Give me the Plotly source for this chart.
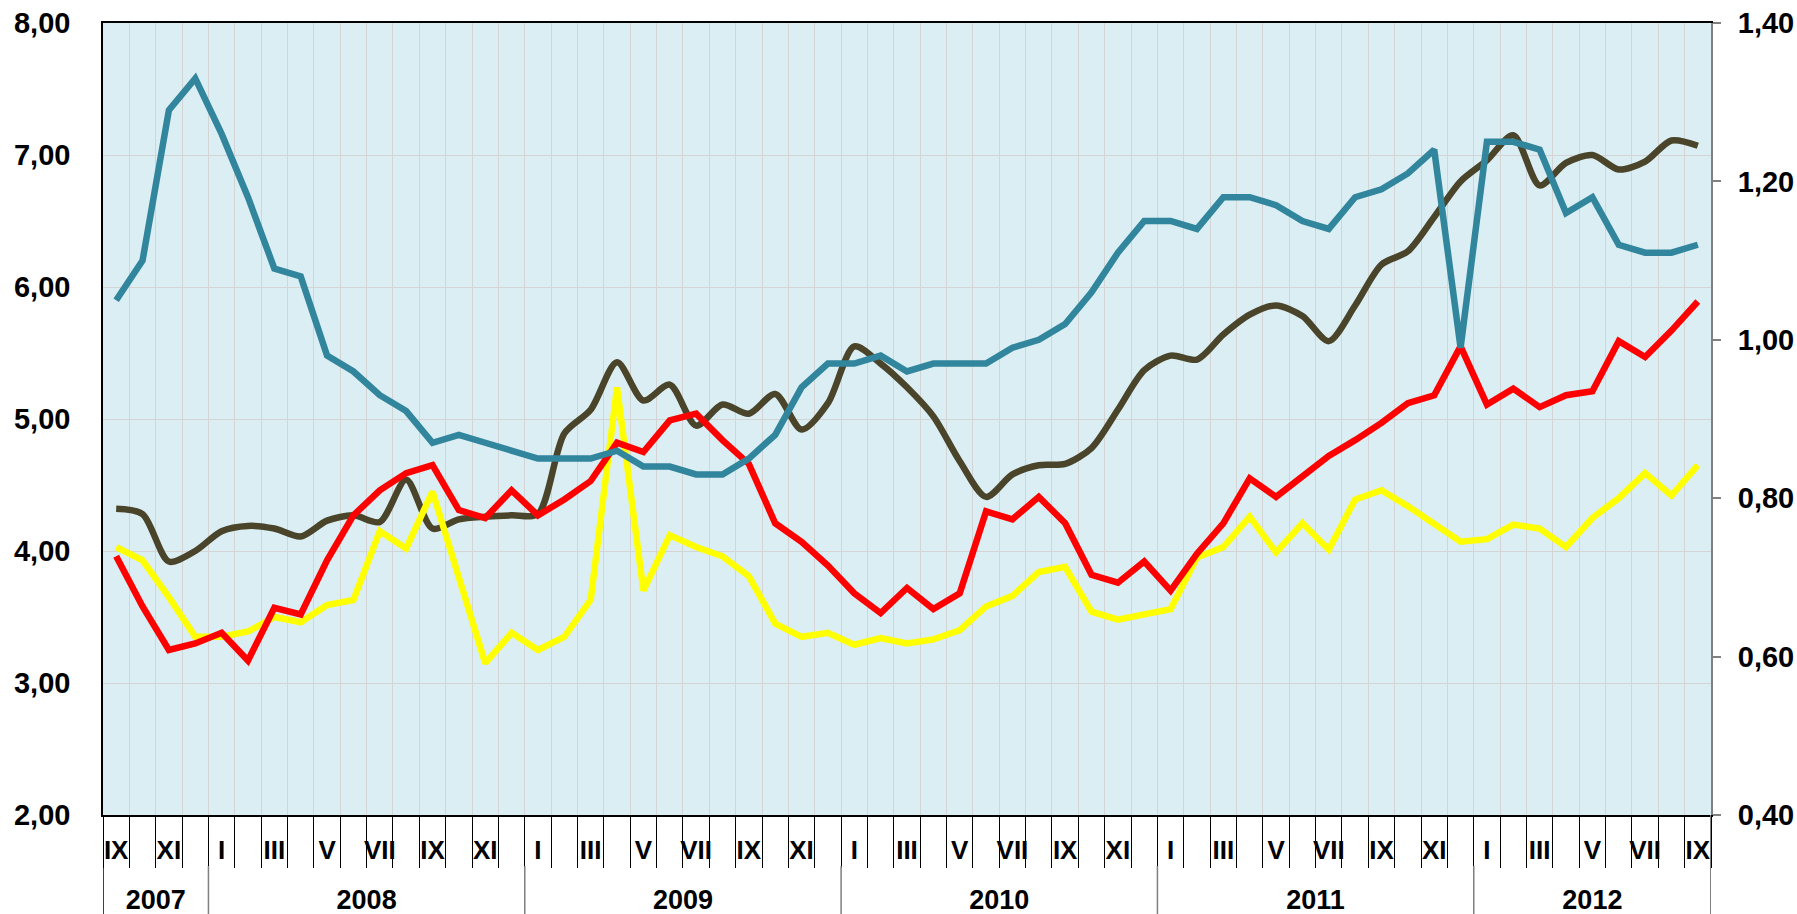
import plotly.graph_objects as go

# ---------------- data ----------------
ROMAN = ["I", "II", "III", "IV", "V", "VI", "VII", "VIII", "IX", "X", "XI", "XII"]
start_year, start_month, n_months = 2007, 9, 61

months = []      # roman numeral of each month
years = []       # year of each month
for k in range(n_months):
    m = (start_month - 1 + k) % 12
    y = start_year + (start_month - 1 + k) // 12
    months.append(ROMAN[m])
    years.append(y)

# left axis series
olive = [4.32, 4.28, 3.92, 4.00, 4.15, 4.19, 4.17, 4.11, 4.23, 4.27,
         4.22, 4.54, 4.17, 4.24, 4.26, 4.27, 4.28, 4.89, 5.07, 5.43,
         5.14, 5.26, 4.95, 5.11, 5.04, 5.19, 4.92, 5.12, 5.55, 5.42,
         5.24, 5.02, 4.68, 4.41, 4.58, 4.65, 4.66, 4.78, 5.07, 5.37,
         5.48, 5.45, 5.64, 5.79, 5.86, 5.78, 5.59, 5.86, 6.17, 6.27,
         6.53, 6.80, 6.96, 7.15, 6.77, 6.94, 7.00, 6.89, 6.95, 7.11, 7.07]

red = [3.96, 3.58, 3.25, 3.30, 3.38, 3.17, 3.57, 3.52, 3.93, 4.27,
       4.46, 4.59, 4.65, 4.31, 4.25, 4.46, 4.27, 4.39, 4.53, 4.82,
       4.75, 4.99, 5.04, 4.84, 4.66, 4.21, 4.07, 3.89, 3.68, 3.53,
       3.72, 3.56, 3.68, 4.30, 4.24, 4.41, 4.21, 3.82, 3.76, 3.92,
       3.70, 3.98, 4.21, 4.55, 4.41, 4.56, 4.72, 4.84, 4.97, 5.12,
       5.18, 5.55, 5.11, 5.23, 5.09, 5.18, 5.21, 5.59, 5.47, 5.67, 5.89]

yellow = [4.03, 3.93, 3.65, 3.35, 3.35, 3.39, 3.50, 3.46, 3.59, 3.63,
          4.15, 4.02, 4.45, 3.78, 3.15, 3.38, 3.25, 3.35, 3.63, 5.24,
          3.70, 4.12, 4.03, 3.96, 3.81, 3.45, 3.35, 3.38, 3.29, 3.34,
          3.30, 3.33, 3.40, 3.58, 3.66, 3.84, 3.88, 3.54, 3.48, 3.52,
          3.56, 3.95, 4.03, 4.26, 3.99, 4.21, 4.01, 4.39, 4.46, 4.34,
          4.20, 4.07, 4.09, 4.20, 4.17, 4.03, 4.25, 4.40, 4.59, 4.42, 4.65]

# right axis series
teal = [1.05, 1.10, 1.29, 1.33, 1.26, 1.18, 1.09, 1.08, 0.98, 0.96,
        0.93, 0.91, 0.87, 0.88, 0.87, 0.86, 0.85, 0.85, 0.85, 0.86,
        0.84, 0.84, 0.83, 0.83, 0.85, 0.88, 0.94, 0.97, 0.97, 0.98,
        0.96, 0.97, 0.97, 0.97, 0.99, 1.00, 1.02, 1.06, 1.11, 1.15,
        1.15, 1.14, 1.18, 1.18, 1.17, 1.15, 1.14, 1.18, 1.19, 1.21,
        1.24, 0.99, 1.25, 1.25, 1.24, 1.16, 1.18, 1.12, 1.11, 1.11, 1.12]

# ---------------- derived positions ----------------
idx = list(range(n_months))
label_idx = [i for i in idx if i % 2 == 0]
label_txt = [months[i] for i in label_idx]

year_list = sorted(set(years))
year_centers = []
for yv in year_list:
    ii = [i for i in idx if years[i] == yv]
    year_centers.append((ii[0] + ii[-1]) / 2)
year_bounds = [i - 0.5 for i in idx[1:] if years[i] != years[i - 1]]

XR = [-0.5, n_months - 0.5]
FONT = "Liberation Sans, Arial, sans-serif"

fig = go.Figure()
fig.add_trace(go.Scatter(x=idx, y=olive, mode="lines", yaxis="y", xaxis="x",
                         line=dict(color="#4A452A", width=6.5, shape="spline", smoothing=0.8),
                         hoverinfo="skip", showlegend=False))
fig.add_trace(go.Scatter(x=idx, y=yellow, mode="lines", yaxis="y", xaxis="x",
                         line=dict(color="#FFFF00", width=6.5),
                         hoverinfo="skip", showlegend=False))
fig.add_trace(go.Scatter(x=idx, y=red, mode="lines", yaxis="y", xaxis="x",
                         line=dict(color="#FF0000", width=6.5),
                         hoverinfo="skip", showlegend=False))
fig.add_trace(go.Scatter(x=idx, y=teal, mode="lines", yaxis="y2", xaxis="x",
                         line=dict(color="#31859C", width=6.5),
                         hoverinfo="skip", showlegend=False))
# carrier trace for the year-label axis
fig.add_trace(go.Scatter(x=year_centers, y=[None] * len(year_centers), mode="lines",
                         xaxis="x2", yaxis="y", hoverinfo="skip", showlegend=False))

# separators in the category area
PH = 792.0
shapes = []
for b in year_bounds:
    shapes.append(dict(type="line", xref="x", yref="paper", x0=b, x1=b,
                       y0=-51 / PH, y1=-99 / PH, line=dict(color="#7F7F7F", width=1.5)))
shapes.append(dict(type="line", xref="x", yref="paper", x0=XR[0], x1=XR[0],
                   y0=0, y1=-99 / PH, line=dict(color="#000000", width=1.5)))
shapes.append(dict(type="line", xref="x", yref="paper", x0=XR[1], x1=XR[1],
                   y0=0, y1=-99 / PH, line=dict(color="#808080", width=2)))

fig.update_layout(
    width=1797, height=914,
    margin=dict(l=103, r=86, t=23, b=99, autoexpand=False),
    paper_bgcolor="#FFFFFF",
    plot_bgcolor="#DAEEF3",
    separators=", ",
    font=dict(family=FONT, color="#000000"),
    shapes=shapes,
    xaxis=dict(
        range=XR, tickmode="array", tickvals=label_idx, ticktext=label_txt,
        ticks="", showgrid=False, zeroline=False, automargin=False,
        showline=True, linecolor="#000000", linewidth=1.5, mirror=True,
        tickfont=dict(family=FONT, size=26, weight="bold", color="#000000"),
        ticklabelstandoff=11,
        minor=dict(tickmode="linear", tick0=-0.5, dtick=1, ticks="outside",
                   ticklen=51, tickcolor="#000000", tickwidth=1,
                   showgrid=True, gridcolor="#D4D4D4", gridwidth=1),
    ),
    xaxis2=dict(
        range=XR, overlaying="x", anchor="y", side="bottom", automargin=False,
        tickmode="array", tickvals=year_centers, ticktext=[str(v) for v in year_list],
        ticks="", showgrid=False, zeroline=False, showline=False,
        tickfont=dict(family=FONT, size=27, weight="bold", color="#000000"),
        ticklabelstandoff=66,
    ),
    yaxis=dict(
        range=[2, 8], dtick=1, tick0=2, tickformat=".2f", automargin=False,
        showgrid=True, gridcolor="#D4D4D4", gridwidth=1, zeroline=False,
        showline=True, linecolor="#000000", linewidth=1.5,
        ticks="", ticklabelstandoff=25,
        tickfont=dict(family=FONT, size=29, weight="bold", color="#000000"),
    ),
    yaxis2=dict(
        range=[0.4, 1.4], dtick=0.2, tick0=0.4, tickformat=".2f", automargin=False,
        overlaying="y", side="right", anchor="x",
        showgrid=False, zeroline=False,
        showline=True, linecolor="#808080", linewidth=2,
        ticks="outside", ticklen=8, tickcolor="#808080", tickwidth=2,
        ticklabelstandoff=11,
        tickfont=dict(family=FONT, size=29, weight="bold", color="#000000"),
    ),
)

fig.write_html("out.html",
               config={"displayModeBar": False},
               post_script="document.body.style.margin='0';document.body.style.overflow='hidden';")
